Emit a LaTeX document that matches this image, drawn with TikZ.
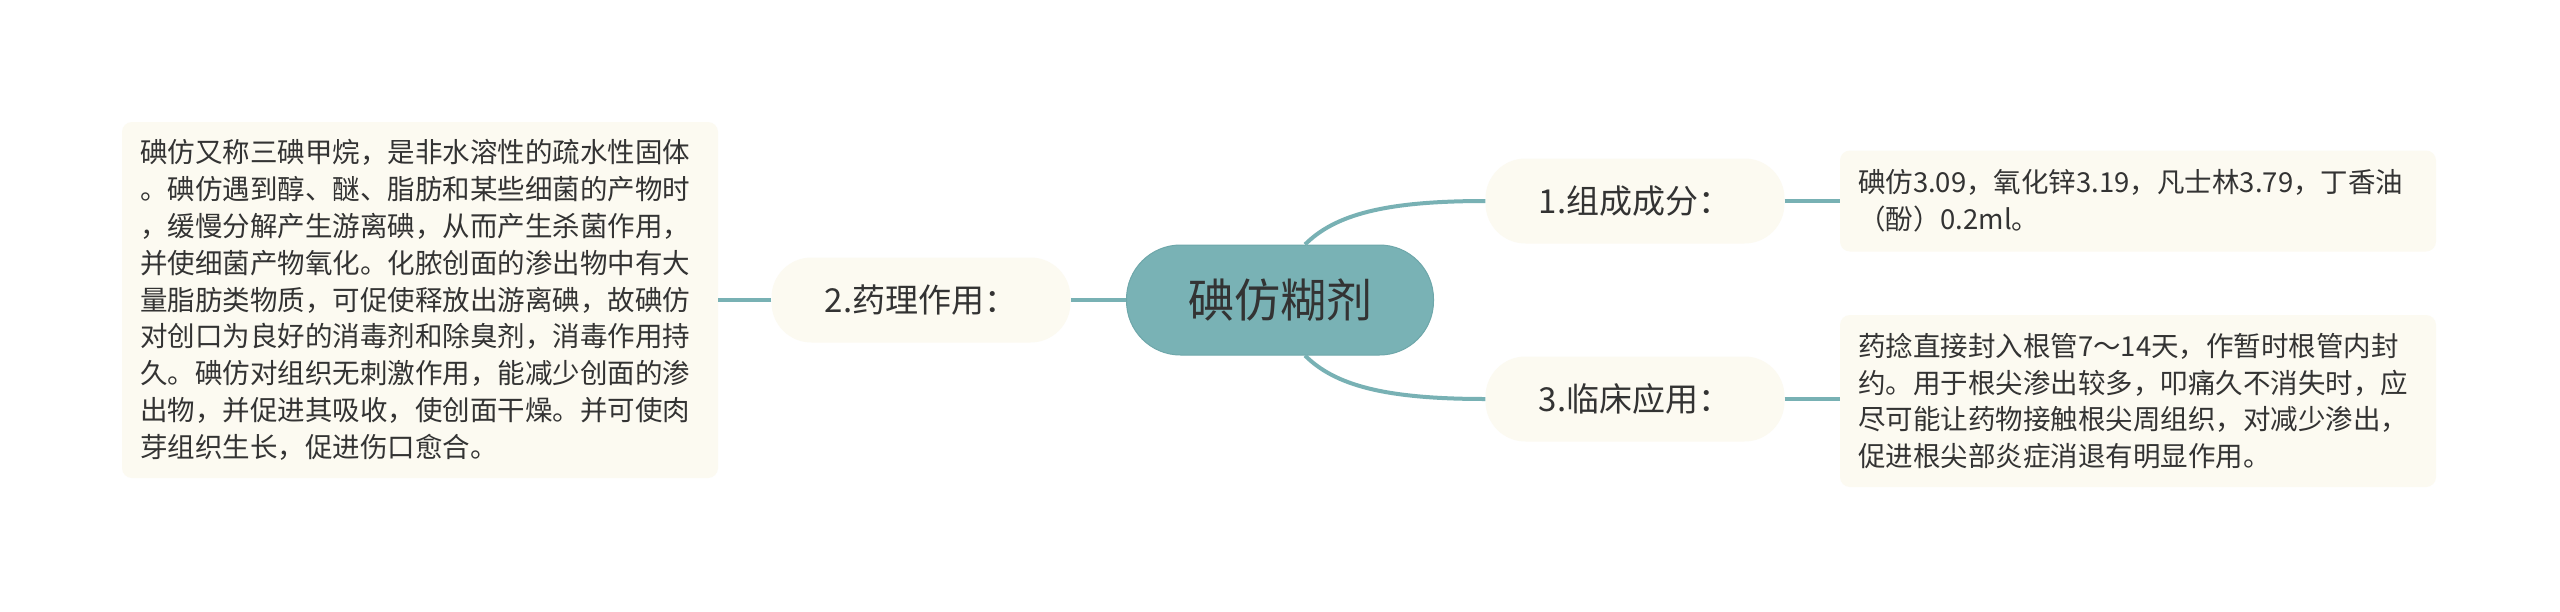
\documentclass[tikz,border=0pt]{standalone}
\usepackage{fontspec}
\newfontfamily\cjk{Noto Sans CJK SC}
\definecolor{teal1}{HTML}{79B2B5}
\definecolor{tealborder}{HTML}{6EA7AA}
\definecolor{linecol}{HTML}{78B1B4}
\definecolor{cream}{HTML}{FCFAF1}
\definecolor{txt}{HTML}{333333}
\begin{document}
\begin{tikzpicture}[x=1pt,y=-1pt,
  detailbox/.style={fill=cream, rounded corners=10pt, inner xsep=18pt, inner ysep=0pt,
    align=left, text=txt, font=\cjk\fontsize{27.5}{36.8}\selectfont},
  levelone/.style={fill=cream, rounded corners=40pt, minimum width=299pt, minimum height=85pt,
    inner sep=0pt, text=txt, font=\cjk\fontsize{33}{40}\selectfont},
  centralnode/.style={fill=teal1, draw=tealborder, line width=1pt, rounded corners=54pt,
    minimum width=307pt, minimum height=110pt, inner sep=0pt, text=txt,
    font=\cjk\fontsize{46}{54}\selectfont},
  conn/.style={draw=linecol, line width=4pt}]
\useasboundingbox (0,0) rectangle (2560,611);
\fill[white] (0,0) rectangle (2560,611);

\node[centralnode] (c) at (1280,300) {碘仿糊剂};

\node[levelone] (n2) at (921,300) {2.药理作用：};
\node[levelone] (n1) at (1635,201) {1.组成成分：};
\node[levelone] (n3) at (1635,399) {3.临床应用：};

\node[detailbox, text width=560pt, minimum width=596pt, minimum height=356pt] (d2) at (420,300)
{碘仿又称三碘甲烷，是非水溶性的疏水性固体\\
。碘仿遇到醇、醚、脂肪和某些细菌的产物时\\
，缓慢分解产生游离碘，从而产生杀菌作用，\\
并使细菌产物氧化。化脓创面的渗出物中有大\\
量脂肪类物质，可促使释放出游离碘，故碘仿\\
对创口为良好的消毒剂和除臭剂，消毒作用持\\
久。碘仿对组织无刺激作用，能减少创面的渗\\
出物，并促进其吸收，使创面干燥。并可使肉\\
芽组织生长，促进伤口愈合。};

\node[detailbox, text width=560pt, minimum width=596pt, minimum height=101pt] (d1) at (2138,201)
{碘仿3.09，氧化锌3.19，凡士林3.79，丁香油\\
（酚）0.2ml。};

\node[detailbox, text width=560pt, minimum width=596pt, minimum height=172pt] (d3) at (2138,401)
{药捻直接封入根管7～14天，作暂时根管内封\\
约。用于根尖渗出较多，叩痛久不消失时，应\\
尽可能让药物接触根尖周组织，对减少渗出，\\
促进根尖部炎症消退有明显作用。};

\draw[conn] (c.west) -- (n2.east);
\draw[conn] (n2.west) -- (d2.east);
\draw[conn] (n1.east) -- (d1.west);
\draw[conn] (n3.east) -- (d3.west |- n3.east);
\draw[conn] ([xshift=25pt]c.north) .. controls +(30,-30) and +(-100,0) .. (n1.west);
\draw[conn] ([xshift=25pt]c.south) .. controls +(30,30) and +(-100,0) .. (n3.west);
\end{tikzpicture}
\end{document}
